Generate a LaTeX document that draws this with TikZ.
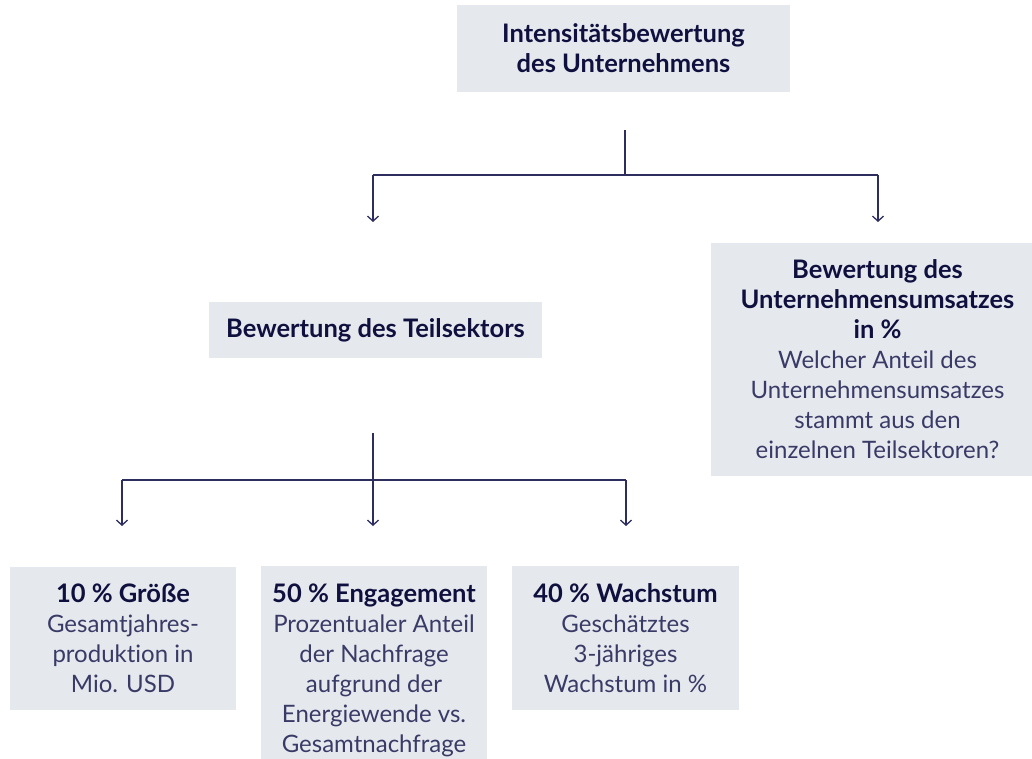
\documentclass[tikz,border=0pt]{standalone}
\usepackage{fontspec}
\setmainfont{Lato}[Ligatures=NoCommon]
\usetikzlibrary{arrows.meta,calc}
\definecolor{boxfill}{HTML}{E5E9EE}
\definecolor{titlecol}{HTML}{10103F}
\definecolor{bodycol}{HTML}{3A3A66}
\definecolor{linecol}{HTML}{2E2E5E}
\newcommand\boxhead[1]{{\color{titlecol}\fontsize{25.5}{30}\selectfont\bfseries #1}}
\begin{document}
\begin{tikzpicture}[x=1pt,y=-1pt,
  box/.style={fill=boxfill, inner sep=0pt, align=center, text=bodycol, font=\fontsize{24}{30}\selectfont},
  conn/.style={draw=linecol, line width=1.3pt},
  arr/.style={conn, -{Straight Barb[length=5pt,width=11pt]}}]
\useasboundingbox (0,0) rectangle (1032,758);
\clip (0,0) rectangle (1032,758);
\fill[white] (0,0) rectangle (1032,758);

\node[box, minimum width=333pt, minimum height=87pt] (top) at (623.5,48.5)
  {\boxhead{Intensitätsbewertung}\\\boxhead{des Unternehmens}};
\node[box, minimum width=333pt, minimum height=56pt] (sub) at (375.5,330)
  {\boxhead{Bewertung des Teilsektors}};
\node[box, minimum width=333pt, minimum height=233pt] (rev) at (877.5,359.5)
  {\boxhead{Bewertung des}\\\boxhead{Unternehmensumsatzes}\\\boxhead{in \%}\\
   Welcher Anteil des\\Unternehmensumsatzes\\stammt aus den\\einzelnen Teilsektoren?};
\node[box, minimum width=226pt, minimum height=143pt] (size) at (123,638.5)
  {\boxhead{10 \% Größe}\\Gesamtjahres-\\produktion in\\Mio. USD};
\node[box, minimum width=226pt, minimum height=208pt] (eng) at (374,670)
  {\boxhead{50 \% Engagement}\\Prozentualer Anteil\\der Nachfrage\\aufgrund der\\Energiewende vs.\\Gesamtnachfrage};
\node[box, minimum width=227pt, minimum height=144pt] (grow) at (625.5,638)
  {\boxhead{40 \% Wachstum}\\Geschätztes\\3-jähriges\\Wachstum in \%};

\coordinate (c0) at (625,130);
\coordinate (c1) at (625,175);
\coordinate (cl) at (373,175);
\coordinate (cr) at (878,175);
\coordinate (al) at (373,222);
\coordinate (ar) at (878,222);
\draw[conn] (c0) -- (c1);
\draw[conn] (cl) -- (cr);
\draw[arr] (cl) -- (al);
\draw[arr] (cr) -- (ar);

\coordinate (d0) at (373,433);
\coordinate (d1) at (373,480);
\coordinate (dl) at (122,480);
\coordinate (dm) at (373,480);
\coordinate (dr) at (626,480);
\coordinate (bl) at (122,526);
\coordinate (bm) at (373,526);
\coordinate (br) at (626,526);
\draw[conn] (d0) -- (d1);
\draw[conn] (dl) -- (dr);
\draw[arr] (dl) -- (bl);
\draw[arr] (dm) -- (bm);
\draw[arr] (dr) -- (br);
\end{tikzpicture}
\end{document}
